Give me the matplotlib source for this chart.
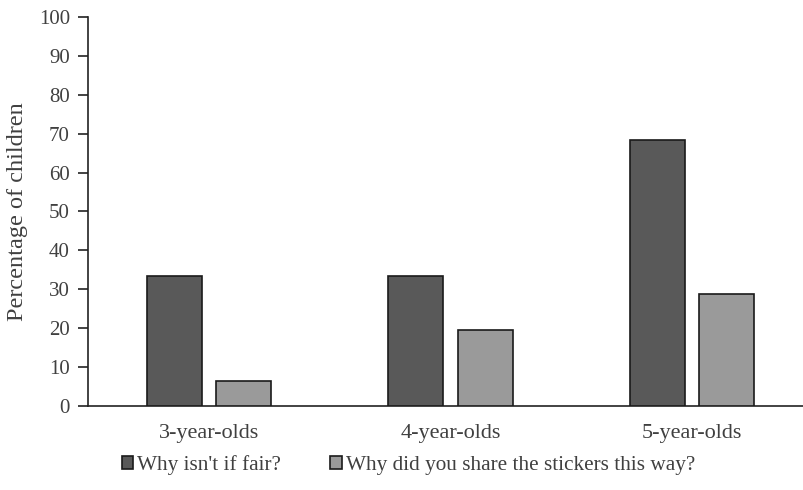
import matplotlib
matplotlib.use("Agg")
import matplotlib.pyplot as plt
import numpy as np

# Percentage of children asking each question, by age group
groups = ["3-year-olds", "4-year-olds", "5-year-olds"]
fair_question = [33.3, 33.3, 68.4]
share_question = [6.3, 19.5, 28.7]
series_names = ["Why isn't if fair?", "Why did you share the stickers this way?"]

DARK = "#595959"
LIGHT = "#9a9a9a"
TEXT = "#404040"

plt.rcParams["font.family"] = ["Liberation Serif", "DejaVu Serif"]

fig = plt.figure(figsize=(8.04, 4.90), dpi=100)
# plot area runs a little past the right edge of the canvas
ax = fig.add_axes([88 / 804, 84 / 490, 725 / 804, 389 / 490])

x = np.arange(len(groups))
width = 0.228
gap = 0.058
off = (width + gap) / 2
ax.bar(x - off, fair_question, width, color=DARK, edgecolor="#1a1a1a", linewidth=1.2,
       label=series_names[0], zorder=3)
ax.bar(x + off, share_question, width, color=LIGHT, edgecolor="#1a1a1a", linewidth=1.2,
       label=series_names[1], zorder=3)

ax.set_xlim(-0.5, 2.5)
ax.set_ylim(0, 100)
ax.set_yticks(range(0, 101, 10))
ax.set_xticks(x)
ax.set_xticklabels(groups)
ax.tick_params(axis="x", length=0, pad=13, labelsize=16, labelcolor=TEXT)
ax.tick_params(axis="y", length=7, width=1.2, direction="out", pad=6, labelsize=15,
               labelcolor=TEXT, color="#222222")
ax.set_ylabel("Percentage of children", fontsize=17.5, color=TEXT, labelpad=8)

for side in ["top", "right"]:
    ax.spines[side].set_visible(False)
ax.spines["left"].set_color("#222222")
ax.spines["bottom"].set_color("#222222")
ax.spines["left"].set_linewidth(1.2)
ax.spines["bottom"].set_linewidth(1.2)

leg = fig.legend(loc="center", bbox_to_anchor=(408.5 / 804, 1 - 465 / 490), ncol=2,
                 frameon=False, fontsize=15.3, handlelength=0.55, handleheight=0.55,
                 handletextpad=0.2, columnspacing=2.3)
for t in leg.get_texts():
    t.set_color(TEXT)

fig.savefig("out.png", dpi=100, facecolor="white")
